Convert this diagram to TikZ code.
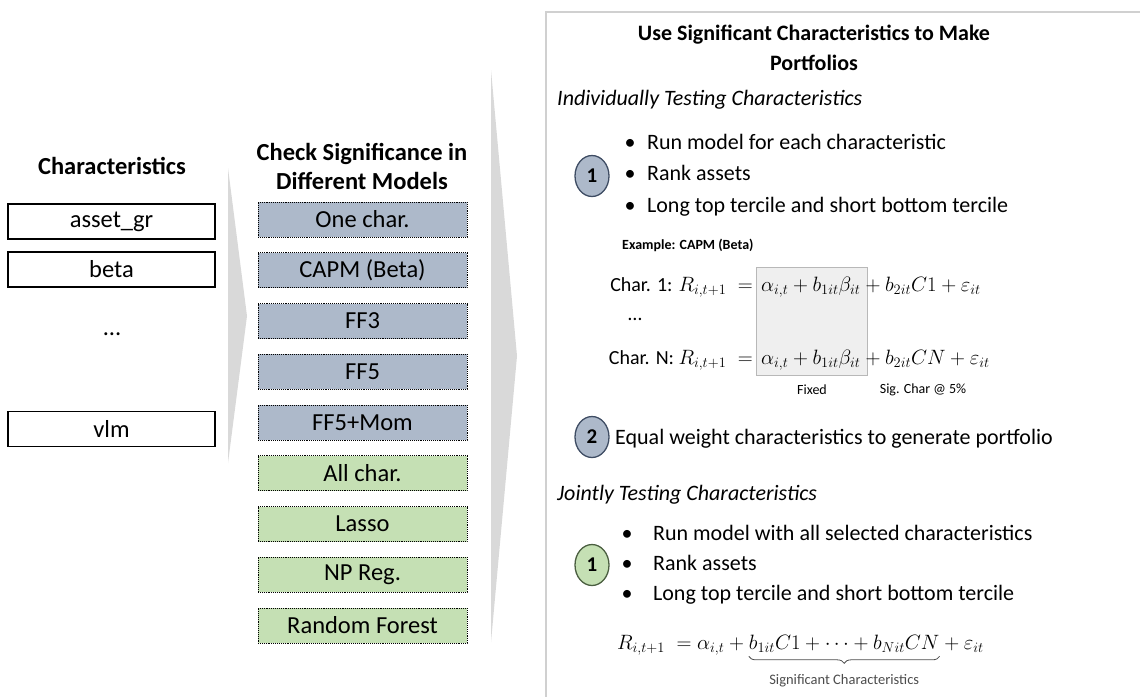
\documentclass[tikz,border=0pt]{standalone}
\usepackage{amsmath}
\usepackage{fontspec}
\setmainfont{Carlito}
\usepackage{tikz}
\usetikzlibrary{positioning,shapes.geometric,decorations.pathreplacing}
\definecolor{factorfill}{HTML}{ADB9CA}
\definecolor{mlfill}{HTML}{C5E0B4}
\definecolor{factorline}{HTML}{3E4C63}
\definecolor{mlline}{HTML}{4A5E40}
\definecolor{arrowgray}{HTML}{D9D9D9}
\definecolor{panelgray}{HTML}{D0D0D0}
\definecolor{fixedfill}{HTML}{EFEFEF}
\definecolor{fixedline}{HTML}{B8B8B8}

\begin{document}
\begin{tikzpicture}[x=1pt,y=-1pt,
      title node/.style={font=\fontsize{24.5}{29}\selectfont\bfseries,align=center,inner sep=0pt},
      char node/.style={draw,line width=1.2pt,minimum width=207pt,minimum height=35pt,inner sep=0pt,outer sep=0pt,font=\fontsize{24.5}{29}\selectfont},
      model node/.style={draw,densely dotted,line width=0.9pt,minimum width=209pt,minimum height=35pt,inner sep=0pt,outer sep=0pt,font=\fontsize{24.5}{29}\selectfont},
      factor node/.style={model node,fill=factorfill},
      ml node/.style={model node,fill=mlfill},
      num node/.style={ellipse,line width=1.3pt,minimum width=34pt,minimum height=41pt,inner sep=0pt,font=\fontsize{21}{25}\selectfont\bfseries},
      item node/.style={anchor=base west,inner sep=0pt,font=\fontsize{22}{26}\selectfont},
      head node/.style={anchor=base west,inner sep=0pt,font=\fontsize{22}{26}\selectfont\itshape},
      eq node/.style={anchor=base west,inner sep=0pt,font=\fontsize{20}{24}\selectfont},
      small node/.style={inner sep=0pt,font=\fontsize{14}{17}\selectfont}]
      \useasboundingbox (0,0) rectangle (1140,697);

      \fill[arrowgray] (228,168) -- (247,316) -- (228,463) -- cycle;
      \fill[arrowgray] (491,70) -- (517,356) -- (491,642) -- cycle;
      \draw[panelgray,line width=2pt] (1140,12) -- (546,12) -- (546,697);

      \node[title node] (chartitle) at (112,166) {Characteristics};
      \node[char node] (assetgr) at (111.5,221.5) {asset\_gr};
      \node[char node] (beta) [below=13pt of assetgr] {beta};
      \node[inner sep=0pt,font=\fontsize{24.5}{29}\selectfont] (chardots) at (112,334) {…};
      \node[char node] (vlm) at (111.5,429) {vlm};

      \node[title node] (modeltitle) at (362,166) {Check Significance in\\Different Models};
      \node[factor node] (onechar) at (362.5,219.5) {One char.};
      \node[factor node] (capm) [below=15.75pt of onechar] {CAPM (Beta)};
      \node[factor node] (ffthree) [below=15.75pt of capm] {FF3};
      \node[factor node] (fffive) [below=15.75pt of ffthree] {FF5};
      \node[factor node] (ffmom) [below=15.75pt of fffive] {FF5+Mom};
      \node[ml node] (allchar) [below=15.75pt of ffmom] {All char.};
      \node[ml node] (lasso) [below=15.75pt of allchar] {Lasso};
      \node[ml node] (npreg) [below=15.75pt of lasso] {NP Reg.};
      \node[ml node] (forest) [below=15.75pt of npreg] {Random Forest};

      \node[font=\fontsize{22}{30}\selectfont\bfseries,align=center,inner sep=0pt] (mktitle) at (814,48)
        {Use Significant Characteristics to Make\\Portfolios};

      \node[head node] (indiv) at (557,105) {Individually Testing Characteristics};
      \node[item node] (runone) at (624.5,149) {\textbullet\hspace{11.5pt}Run model for each characteristic};
      \node[item node] (rankone) at (624.5,180) {\textbullet\hspace{11.5pt}Rank assets};
      \node[item node] (longone) at (624.5,212) {\textbullet\hspace{11.5pt}Long top tercile and short bottom tercile};
      \node[num node,draw=factorline,fill=factorfill] (numone) at (592,176) {1};

      \node[small node,font=\fontsize{14}{17}\selectfont\bfseries,anchor=west] (example) at (622,245) {Example: CAPM (Beta)};
      \node[fill=fixedfill,draw=fixedline,line width=1pt,minimum width=111pt,minimum height=108pt,inner sep=0pt] (fixedbox) at (811.5,321) {};
      \node[eq node,anchor=base east] (lhsone) at (753,291) {Char. 1: $R_{i,t+1}\;=$};
      \node[eq node] (fixone) at (761,291) {$\alpha_{i,t}+b_{1it}\beta_{it}$};
      \node[eq node] (sigone) at (fixone.base east) {${}+b_{2it}C1+\varepsilon_{it}$};
      \node[eq node] (eqdots) at (628,320) {…};
      \node[eq node,anchor=base east] (lhsn) at (753,364) {Char. N: $R_{i,t+1}\;=$};
      \node[eq node] (fixn) at (761,364) {$\alpha_{i,t}+b_{1it}\beta_{it}$};
      \node[eq node] (sign) at (fixn.base east) {${}+b_{2it}CN+\varepsilon_{it}$};
      \node[small node] (fixed) at (812,390) {Fixed};
      \node[small node] (sigchar) at (923,390) {Sig. Char @ 5\%};

      \node[num node,draw=factorline,fill=factorfill] (numtwo) at (592,437) {2};
      \node[item node] (equal) at (615,444) {Equal weight characteristics to generate portfolio};

      \node[head node] (joint) at (557,500) {Jointly Testing Characteristics};
      \node[item node] (runjoint) at (621.5,540) {\textbullet\hspace{20.5pt}Run model with all selected characteristics};
      \node[item node] (rankjoint) at (621.5,570) {\textbullet\hspace{20.5pt}Rank assets};
      \node[item node] (longjoint) at (621.5,600) {\textbullet\hspace{20.5pt}Long top tercile and short bottom tercile};
      \node[num node,draw=mlline,fill=mlfill] (numjoint) at (592,565) {1};

      \node[eq node] (jlhs) at (617,649) {$R_{i,t+1}\;=\alpha_{i,t}+{}$};
      \node[eq node] (jsig) at (jlhs.base east) {$b_{1it}C1+\cdots+b_{Nit}CN$};
      \node[eq node] (jtail) at (jsig.base east) {${}+\varepsilon_{it}$};
      \draw[black!70,line width=0.8pt,decorate,decoration={brace,mirror,amplitude=7pt}]
        ([yshift=-4pt]jsig.south west) -- ([yshift=-4pt]jsig.south east)
        node[small node,midway,below=18pt,font=\fontsize{14.5}{17}\selectfont] (sigtext) {Significant Characteristics};
\end{tikzpicture}
\end{document}
